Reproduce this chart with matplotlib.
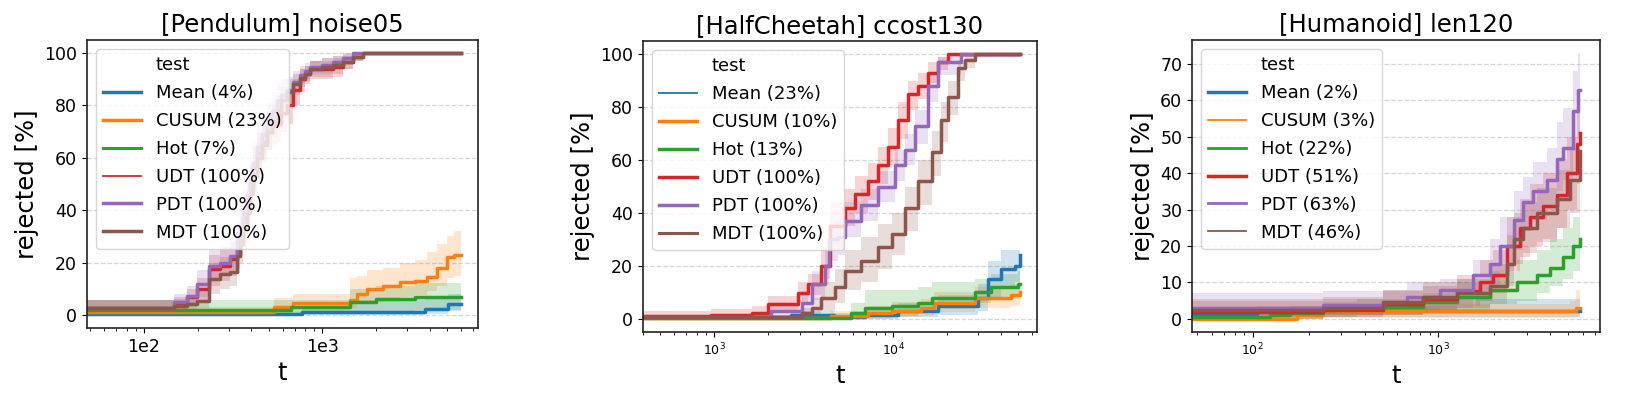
import matplotlib
matplotlib.use("Agg")
import matplotlib.pyplot as plt
from matplotlib.lines import Line2D

# ---- data (t, line, band low, band high) ----
names = ["Mean", "CUSUM", "Hot", "UDT", "PDT", "MDT"]
colors = ["#1f77b4", "#ff7f0e", "#2ca02c", "#d62728", "#9467bd", "#8c564b"]

# [Pendulum] noise05
pend_mean_t = [20, 770, 1430, 3750, 5060, 6000]
pend_mean = [0.5, 1.2, 1.2, 2.2, 4.0, 4.0]
pend_mean_lo = [0, 0, 0, 0.5, 1.5, 1.5]
pend_mean_hi = [1.5, 3, 5.5, 7, 8, 8]

pend_cusum_t = [20, 534, 690, 1430, 1560, 1780, 2200, 2730, 3300, 3850, 4370, 4980, 5500, 6000]
pend_cusum = [1, 3, 4.5, 5.5, 8, 10, 11, 12.4, 13, 14.5, 18, 22, 23, 23]
pend_cusum_lo = [0, 0.5, 1.5, 2.5, 4, 5, 6, 7, 7.5, 9, 11, 14, 15, 15]
pend_cusum_hi = [3, 6.5, 8, 14, 15, 17, 18, 20, 21, 24, 27, 30, 32, 31]

pend_hot_t = [20, 665, 1430, 2000, 3300, 6000]
pend_hot = [2, 3, 5, 6, 7, 7]
pend_hot_lo = [0, 0.5, 1, 1.5, 2, 2]
pend_hot_hi = [5.5, 5.5, 10, 11, 12, 13]

pend_s_t = [20, 120, 147, 175, 199, 231, 268, 305, 332, 345, 360, 378, 395, 410, 430, 460,
            490, 520, 556, 590, 632, 690, 750, 800, 853, 1000, 1150, 1310, 1490, 1690, 6000]
pend_udt = [2.5, 2.5, 4.2, 6.7, 9.9, 17.5, 18.8, 21.3, 25, 30, 37, 44, 50, 56, 62, 66,
            70, 72, 73, 77, 80, 86, 90, 92, 94, 94, 94.8, 96.7, 98.6, 100, 100]
pend_udt_lo = [0.5, 0.5, 1.5, 3, 5, 11, 13, 15, 18, 23, 29, 35, 42, 48, 54, 59,
               63, 65, 66, 70, 73, 80, 85, 88, 90, 90, 91, 94, 97, 100, 100]
pend_udt_hi = [5.5, 5.5, 7, 10, 14, 23, 25, 28, 33, 38, 45, 53, 58, 64, 70, 74,
               77, 79, 80, 83, 86, 90, 94, 95, 97, 97, 98, 99, 100, 100, 100]
pend_pdt = [2.5, 2.5, 4.8, 7.4, 11.8, 18.8, 20, 22.6, 29, 34, 40, 46, 52, 58, 64, 69,
            74, 78, 82, 84, 86, 89, 91.6, 93, 94.8, 95.4, 96.5, 98, 100, 100, 100]
pend_pdt_lo = [0.5, 0.5, 2, 4, 7, 13, 15, 17, 22, 27, 33, 38, 44, 50, 56, 62,
               67, 72, 76, 79, 81, 85, 88, 90, 92, 92, 94, 96, 99, 100, 100]
pend_pdt_hi = [5.5, 5.5, 8, 11, 17, 25, 26, 29, 36, 41, 48, 55, 61, 66, 72, 77,
               81, 85, 88, 90, 91, 93, 95, 96, 97, 98, 99, 100, 100, 100, 100]
pend_mdt = [2.5, 2.5, 3.5, 4.2, 5.4, 13.7, 15.6, 16.2, 22.6, 27, 33, 39, 46, 53, 60, 65,
            70, 74, 78, 82, 85, 88, 90.4, 92, 94, 94.5, 95.4, 96.7, 98.6, 100, 100]
pend_mdt_lo = [0.5, 0.5, 1.5, 2, 2.5, 8, 10, 11, 16, 20, 26, 31, 38, 45, 52, 58,
               63, 68, 72, 77, 80, 84, 87, 89, 91, 91, 92, 94, 97, 100, 100]
pend_mdt_hi = [5.5, 5.5, 6, 7, 9, 20, 22, 23, 30, 34, 40, 47, 54, 61, 68, 72,
               77, 80, 84, 87, 90, 92, 94, 95, 97, 98, 99, 99.5, 100, 100, 100]

# [HalfCheetah] ccost130
hc_mean_t = [100, 2700, 4700, 6950, 10700, 17800, 29800, 34000, 40300, 47800, 51000]
hc_mean = [0.5, 1.5, 0.8, 1.5, 3, 5, 8, 15, 19, 20, 24]
hc_mean_lo = [0, 0, 0, 0, 0.5, 1.5, 3, 8, 12, 14, 17]
hc_mean_hi = [1.5, 3, 2, 4, 6, 9, 13, 22, 26, 26, 31]

hc_cusum_t = [100, 4520, 7250, 9800, 14400, 17000, 28600, 45800, 51000]
hc_cusum = [0.3, 1, 2, 3, 4, 6, 8, 9, 10]
hc_cusum_lo = [0, 0, 0, 0.5, 1, 2.5, 4, 5, 5.5]
hc_cusum_hi = [1, 3, 5, 6.5, 7.5, 10, 12, 13, 14]

hc_hot_t = [100, 5850, 6950, 9800, 13800, 16400, 28600, 35400, 49900, 51000]
hc_hot = [0.3, 2, 4, 5, 6, 8, 10, 12, 13, 13]
hc_hot_lo = [0, 0, 0.5, 1, 2, 4, 6, 7.5, 8.5, 8.5]
hc_hot_hi = [1, 6, 11, 11, 12, 14, 15, 17, 18, 18]

hc_udt_t = [100, 966, 1620, 2000, 2950, 3350, 3980, 4430, 5370, 6110, 7250, 8240, 9370, 10700,
            12100, 13800, 15700, 17800, 20300, 51000]
hc_udt = [1, 1.5, 2.3, 5.4, 9.8, 13, 20, 35, 42, 47, 52, 58, 65, 75, 85, 88, 93, 97, 100, 100]
hc_udt_lo = [0, 0, 0.5, 2.5, 6, 9, 15, 26, 35, 40, 45, 51, 58, 68, 79, 83, 89, 94, 99, 100]
hc_udt_hi = [3, 3.5, 5, 8.5, 14, 17, 27, 44, 49, 54, 59, 65, 72, 82, 90, 93, 97, 99, 100, 100]

hc_pdt_t = [100, 2090, 3080, 3500, 4150, 4400, 4930, 5370, 6650, 8240, 10200, 11600, 13200,
            15700, 17800, 24100, 51000]
hc_pdt = [0.5, 3, 6, 13, 20, 30, 31, 37, 43, 50, 58, 64, 73, 88, 97, 100, 100]
hc_pdt_lo = [0, 0.5, 2, 7, 13, 22, 24, 31, 37, 44, 52, 58, 66, 82, 92, 99, 100]
hc_pdt_hi = [1.5, 5, 10, 18, 26, 36, 38, 44, 49, 56, 64, 70, 79, 93, 99, 100, 100]

hc_mdt_t = [100, 3080, 3500, 3980, 4720, 5370, 6650, 8240, 9800, 11600, 13800, 16400, 18600,
            20300, 23100, 25100, 28600, 51000]
hc_mdt = [0.5, 2, 4, 8, 12, 18, 22, 27, 32, 42, 52, 63, 75, 84, 95, 98, 100, 100]
hc_mdt_lo = [0, 0, 1, 3, 6, 11, 14, 19, 24, 33, 43, 54, 67, 77, 90, 95, 99.5, 100]
hc_mdt_hi = [1.5, 4, 8, 14, 19, 26, 31, 36, 40, 50, 60, 71, 82, 90, 98, 100, 100, 100]

# [Humanoid] len120
hu_mean_t = [20, 105, 1600, 5800]
hu_mean = [1.4, 2, 2, 2]
hu_mean_lo = [0, 0.5, 0.5, 0.5]
hu_mean_hi = [3, 3.5, 5.5, 5.5]

hu_cusum_t = [20, 173, 240, 5120, 5500, 5800]
hu_cusum = [0, 1, 2, 2, 3, 3]
hu_cusum_lo = [0, 0, 0.3, 0.3, 0.5, 0.5]
hu_cusum_hi = [0.5, 3, 4, 5, 8, 8]

hu_hot_t = [20, 124, 159, 240, 364, 830, 1255, 1900, 2640, 3390, 4000, 4710, 5330, 5800]
hu_hot = [0.5, 1, 1.5, 2.5, 3.2, 4.5, 6, 8, 10, 12, 14, 17, 20, 22]
hu_hot_lo = [0, 0, 0, 0.5, 1, 1.5, 2.5, 4, 5, 7, 9, 11, 13, 15]
hu_hot_hi = [1.5, 2.5, 3.5, 4.5, 5.5, 7, 10, 13, 16, 19, 22, 25, 28, 30]

hu_udt_t = [20, 240, 506, 830, 1255, 1680, 1980, 2330, 2750, 3120, 3680, 4340, 4910, 5560, 5800]
hu_udt = [1.8, 2.5, 4, 5.5, 7.5, 10, 12, 20, 25, 28, 31, 34, 40, 48, 51]
hu_udt_lo = [0, 0.5, 1, 2, 3.5, 5, 7, 13, 17, 20, 22, 25, 30, 37, 40]
hu_udt_hi = [5, 5.5, 7.5, 9, 12, 16, 19, 28, 33, 37, 40, 44, 50, 57, 60]

hu_pdt_t = [20, 240, 506, 675, 1020, 1545, 1900, 2150, 2540, 2870, 3250, 3830, 4340, 4710,
            5330, 5670, 5800]
hu_pdt = [3, 3.8, 4.5, 6, 8, 12, 15, 20, 27, 32, 35, 38, 44, 47, 57, 63, 63]
hu_pdt_lo = [1, 1, 1.5, 2, 3, 6, 9, 13, 19, 24, 27, 30, 35, 38, 46, 50, 50]
hu_pdt_hi = [7, 7.5, 8, 10, 11, 16, 22, 28, 35, 39, 43, 47, 54, 58, 68, 73, 73]

hu_mdt_t = [20, 240, 506, 830, 1255, 1900, 2330, 2540, 2870, 3390, 4340, 5130, 5800]
hu_mdt = [2.5, 3, 4.5, 6, 7, 9, 15, 22, 25, 29, 33, 38, 46]
hu_mdt_lo = [0.5, 1, 1.5, 2.5, 3, 4, 9, 15, 18, 21, 25, 29, 36]
hu_mdt_hi = [5.5, 6, 8, 10, 11, 15, 23, 29, 32, 36, 41, 47, 56]

pend_pct = ["4%", "23%", "7%", "100%", "100%", "100%"]
hc_pct = ["23%", "10%", "13%", "100%", "100%", "100%"]
hu_pct = ["2%", "3%", "22%", "51%", "63%", "46%"]

pend_series = [
    (pend_mean_t, pend_mean, pend_mean_lo, pend_mean_hi),
    (pend_cusum_t, pend_cusum, pend_cusum_lo, pend_cusum_hi),
    (pend_hot_t, pend_hot, pend_hot_lo, pend_hot_hi),
    (pend_s_t, pend_udt, pend_udt_lo, pend_udt_hi),
    (pend_s_t, pend_pdt, pend_pdt_lo, pend_pdt_hi),
    (pend_s_t, pend_mdt, pend_mdt_lo, pend_mdt_hi),
]
hc_series = [
    (hc_mean_t, hc_mean, hc_mean_lo, hc_mean_hi),
    (hc_cusum_t, hc_cusum, hc_cusum_lo, hc_cusum_hi),
    (hc_hot_t, hc_hot, hc_hot_lo, hc_hot_hi),
    (hc_udt_t, hc_udt, hc_udt_lo, hc_udt_hi),
    (hc_pdt_t, hc_pdt, hc_pdt_lo, hc_pdt_hi),
    (hc_mdt_t, hc_mdt, hc_mdt_lo, hc_mdt_hi),
]
hu_series = [
    (hu_mean_t, hu_mean, hu_mean_lo, hu_mean_hi),
    (hu_cusum_t, hu_cusum, hu_cusum_lo, hu_cusum_hi),
    (hu_hot_t, hu_hot, hu_hot_lo, hu_hot_hi),
    (hu_udt_t, hu_udt, hu_udt_lo, hu_udt_hi),
    (hu_pdt_t, hu_pdt, hu_pdt_lo, hu_pdt_hi),
    (hu_mdt_t, hu_mdt, hu_mdt_lo, hu_mdt_hi),
]

# legend line widths differ per panel in the original
pend_lw = [2.5, 2.5, 2.2, 1.3, 2.5, 2.5]
hc_lw = [1.3, 2.5, 2.5, 2.5, 2.5, 2.2]
hu_lw = [2.5, 1.3, 2.0, 2.5, 2.0, 1.3]


def draw_panel(ax, title, series, pct, leg_lw, xlim, yticks):
    for (t, v, lo, hi), c in zip(series, colors):
        ax.fill_between(t, lo, hi, step="post", color=c, alpha=0.2, lw=0)
        ax.plot(t, v, drawstyle="steps-post", color=c, lw=2.5)
    ax.set_xscale("log")
    ax.set_xlim(*xlim)
    ax.set_yticks(yticks)
    ax.set_title(title, fontsize=17.5)
    ax.set_xlabel("t", fontsize=17.5)
    ax.set_ylabel("rejected [%]", fontsize=17.5)
    ax.tick_params(axis="y", labelsize=12.5)
    ax.yaxis.grid(True, linestyle="--", color="#d5d5d5", lw=0.9)
    ax.set_axisbelow(True)
    for s in ax.spines.values():
        s.set_color("#222222")
        s.set_linewidth(1.2)

    handles = [Line2D([], [], color="none")]
    labels = ["test"]
    for n, p, c, w in zip(names, pct, colors, leg_lw):
        handles.append(Line2D([], [], color=c, lw=w))
        labels.append(f"{n} ({p})")
    ax.legend(handles, labels, loc="upper left", fontsize=13, handlelength=2.1,
              labelspacing=0.55, edgecolor="#cccccc", framealpha=0.8)


fig = plt.figure(figsize=(16.31, 3.99), dpi=100)
ax1 = fig.add_axes([0.0533, 0.178, 0.2397, 0.722])
ax2 = fig.add_axes([0.3942, 0.168, 0.2416, 0.729])
ax3 = fig.add_axes([0.7308, 0.168, 0.2502, 0.732])

draw_panel(ax1, "[Pendulum] noise05", pend_series, pend_pct, pend_lw, (48, 7450),
           [0, 20, 40, 60, 80, 100])
ax1.set_xticks([100, 1000], ["1e2", "1e3"])
ax1.tick_params(axis="x", labelsize=12.5)

draw_panel(ax2, "[HalfCheetah] ccost130", hc_series, hc_pct, hc_lw, (400, 63700),
           [0, 20, 40, 60, 80, 100])
ax2.tick_params(axis="x", labelsize=9)

draw_panel(ax3, "[Humanoid] len120", hu_series, hu_pct, hu_lw, (47, 7430),
           [0, 10, 20, 30, 40, 50, 60, 70])
ax3.tick_params(axis="x", labelsize=9)

fig.savefig("out.png", dpi=100)
